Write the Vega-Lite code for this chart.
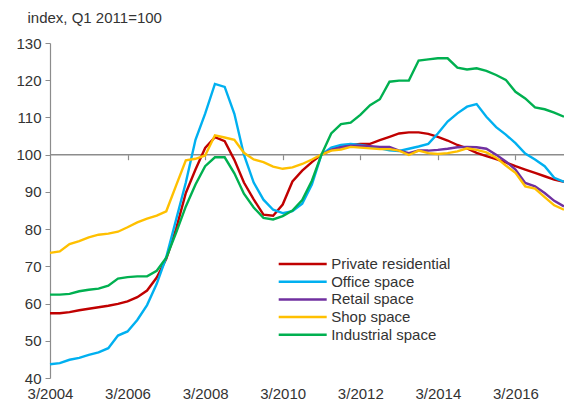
{
  "$schema": "https://vega.github.io/schema/vega-lite/v6.json",
  "width": 514,
  "height": 335,
  "autosize": {"type": "none"},
  "padding": {"left": 50, "top": 43, "right": 0, "bottom": 27},
  "config": {"font": "Liberation Sans", "view": {"stroke": null},
    "axisY": {"values": [40, 50, 60, 70, 80, 90, 100, 110, 120, 130], "grid": false, "labelOverlap": false,
      "titleAngle": 0, "titleAlign": "left", "titleBaseline": "alphabetic",
      "titleX": -23, "titleY": -20.5, "titleFont": "Liberation Sans", "titleFontSize": 15, "titleFontWeight": "normal", "titleColor": "#333333",
      "labelFont": "Liberation Sans", "labelFontSize": 15, "labelColor": "#333333", "labelPadding": 4,
      "tickSize": 5, "tickColor": "#8c8c8c", "domainColor": "#8c8c8c", "domainWidth": 1.2}},
  "data": {"values": [
    {"date":"2004-03","series":"Private residential","value":57.4},
    {"date":"2004-06","series":"Private residential","value":57.4},
    {"date":"2004-09","series":"Private residential","value":57.7},
    {"date":"2004-12","series":"Private residential","value":58.2},
    {"date":"2005-03","series":"Private residential","value":58.6},
    {"date":"2005-06","series":"Private residential","value":59.0},
    {"date":"2005-09","series":"Private residential","value":59.4},
    {"date":"2005-12","series":"Private residential","value":59.9},
    {"date":"2006-03","series":"Private residential","value":60.6},
    {"date":"2006-06","series":"Private residential","value":61.7},
    {"date":"2006-09","series":"Private residential","value":63.5},
    {"date":"2006-12","series":"Private residential","value":67.0},
    {"date":"2007-03","series":"Private residential","value":72.0},
    {"date":"2007-06","series":"Private residential","value":80.0},
    {"date":"2007-09","series":"Private residential","value":89.7},
    {"date":"2007-12","series":"Private residential","value":96.0},
    {"date":"2008-03","series":"Private residential","value":101.8},
    {"date":"2008-06","series":"Private residential","value":104.7},
    {"date":"2008-09","series":"Private residential","value":103.6},
    {"date":"2008-12","series":"Private residential","value":98.6},
    {"date":"2009-03","series":"Private residential","value":92.5},
    {"date":"2009-06","series":"Private residential","value":88.0},
    {"date":"2009-09","series":"Private residential","value":83.9},
    {"date":"2009-12","series":"Private residential","value":83.6},
    {"date":"2010-03","series":"Private residential","value":86.6},
    {"date":"2010-06","series":"Private residential","value":92.8},
    {"date":"2010-09","series":"Private residential","value":95.7},
    {"date":"2010-12","series":"Private residential","value":98.0},
    {"date":"2011-03","series":"Private residential","value":100.0},
    {"date":"2011-06","series":"Private residential","value":101.3},
    {"date":"2011-09","series":"Private residential","value":102.1},
    {"date":"2011-12","series":"Private residential","value":102.6},
    {"date":"2012-03","series":"Private residential","value":102.9},
    {"date":"2012-06","series":"Private residential","value":102.9},
    {"date":"2012-09","series":"Private residential","value":103.9},
    {"date":"2012-12","series":"Private residential","value":104.8},
    {"date":"2013-03","series":"Private residential","value":105.7},
    {"date":"2013-06","series":"Private residential","value":106.0},
    {"date":"2013-09","series":"Private residential","value":106.0},
    {"date":"2013-12","series":"Private residential","value":105.6},
    {"date":"2014-03","series":"Private residential","value":104.8},
    {"date":"2014-06","series":"Private residential","value":103.8},
    {"date":"2014-09","series":"Private residential","value":102.6},
    {"date":"2014-12","series":"Private residential","value":101.7},
    {"date":"2015-03","series":"Private residential","value":100.5},
    {"date":"2015-06","series":"Private residential","value":99.6},
    {"date":"2015-09","series":"Private residential","value":98.8},
    {"date":"2015-12","series":"Private residential","value":97.9},
    {"date":"2016-03","series":"Private residential","value":96.9},
    {"date":"2016-06","series":"Private residential","value":96.0},
    {"date":"2016-09","series":"Private residential","value":95.1},
    {"date":"2016-12","series":"Private residential","value":94.2},
    {"date":"2017-03","series":"Private residential","value":93.3},
    {"date":"2017-06","series":"Private residential","value":92.7},

    {"date":"2004-03","series":"Office space","value":43.7},
    {"date":"2004-06","series":"Office space","value":44.0},
    {"date":"2004-09","series":"Office space","value":44.9},
    {"date":"2004-12","series":"Office space","value":45.4},
    {"date":"2005-03","series":"Office space","value":46.2},
    {"date":"2005-06","series":"Office space","value":46.9},
    {"date":"2005-09","series":"Office space","value":48.0},
    {"date":"2005-12","series":"Office space","value":51.4},
    {"date":"2006-03","series":"Office space","value":52.5},
    {"date":"2006-06","series":"Office space","value":55.6},
    {"date":"2006-09","series":"Office space","value":59.6},
    {"date":"2006-12","series":"Office space","value":65.3},
    {"date":"2007-03","series":"Office space","value":72.5},
    {"date":"2007-06","series":"Office space","value":82.5},
    {"date":"2007-09","series":"Office space","value":92.5},
    {"date":"2007-12","series":"Office space","value":104.0},
    {"date":"2008-03","series":"Office space","value":111.0},
    {"date":"2008-06","series":"Office space","value":119.0},
    {"date":"2008-09","series":"Office space","value":118.2},
    {"date":"2008-12","series":"Office space","value":111.0},
    {"date":"2009-03","series":"Office space","value":100.0},
    {"date":"2009-06","series":"Office space","value":92.5},
    {"date":"2009-09","series":"Office space","value":87.9},
    {"date":"2009-12","series":"Office space","value":85.2},
    {"date":"2010-03","series":"Office space","value":84.3},
    {"date":"2010-06","series":"Office space","value":84.8},
    {"date":"2010-09","series":"Office space","value":86.8},
    {"date":"2010-12","series":"Office space","value":92.0},
    {"date":"2011-03","series":"Office space","value":100.0},
    {"date":"2011-06","series":"Office space","value":101.9},
    {"date":"2011-09","series":"Office space","value":102.6},
    {"date":"2011-12","series":"Office space","value":102.9},
    {"date":"2012-03","series":"Office space","value":102.6},
    {"date":"2012-06","series":"Office space","value":102.2},
    {"date":"2012-09","series":"Office space","value":101.7},
    {"date":"2012-12","series":"Office space","value":101.2},
    {"date":"2013-03","series":"Office space","value":101.0},
    {"date":"2013-06","series":"Office space","value":101.6},
    {"date":"2013-09","series":"Office space","value":102.2},
    {"date":"2013-12","series":"Office space","value":102.9},
    {"date":"2014-03","series":"Office space","value":105.7},
    {"date":"2014-06","series":"Office space","value":108.9},
    {"date":"2014-09","series":"Office space","value":111.1},
    {"date":"2014-12","series":"Office space","value":112.9},
    {"date":"2015-03","series":"Office space","value":113.6},
    {"date":"2015-06","series":"Office space","value":110.2},
    {"date":"2015-09","series":"Office space","value":107.4},
    {"date":"2015-12","series":"Office space","value":105.4},
    {"date":"2016-03","series":"Office space","value":103.1},
    {"date":"2016-06","series":"Office space","value":100.3},
    {"date":"2016-09","series":"Office space","value":98.7},
    {"date":"2016-12","series":"Office space","value":96.9},
    {"date":"2017-03","series":"Office space","value":93.8},
    {"date":"2017-06","series":"Office space","value":92.7},

    {"date":"2011-03","series":"Retail space","value":100.0},
    {"date":"2011-06","series":"Retail space","value":101.3},
    {"date":"2011-09","series":"Retail space","value":102.0},
    {"date":"2011-12","series":"Retail space","value":102.4},
    {"date":"2012-03","series":"Retail space","value":102.4},
    {"date":"2012-06","series":"Retail space","value":102.3},
    {"date":"2012-09","series":"Retail space","value":102.1},
    {"date":"2012-12","series":"Retail space","value":102.1},
    {"date":"2013-03","series":"Retail space","value":101.1},
    {"date":"2013-06","series":"Retail space","value":100.4},
    {"date":"2013-09","series":"Retail space","value":101.1},
    {"date":"2013-12","series":"Retail space","value":101.1},
    {"date":"2014-03","series":"Retail space","value":101.3},
    {"date":"2014-06","series":"Retail space","value":101.6},
    {"date":"2014-09","series":"Retail space","value":102.0},
    {"date":"2014-12","series":"Retail space","value":102.1},
    {"date":"2015-03","series":"Retail space","value":102.0},
    {"date":"2015-06","series":"Retail space","value":101.6},
    {"date":"2015-09","series":"Retail space","value":100.0},
    {"date":"2015-12","series":"Retail space","value":98.2},
    {"date":"2016-03","series":"Retail space","value":96.0},
    {"date":"2016-06","series":"Retail space","value":92.4},
    {"date":"2016-09","series":"Retail space","value":91.5},
    {"date":"2016-12","series":"Retail space","value":89.7},
    {"date":"2017-03","series":"Retail space","value":87.6},
    {"date":"2017-06","series":"Retail space","value":86.1},

    {"date":"2004-03","series":"Shop space","value":73.6},
    {"date":"2004-06","series":"Shop space","value":74.0},
    {"date":"2004-09","series":"Shop space","value":76.0},
    {"date":"2004-12","series":"Shop space","value":76.8},
    {"date":"2005-03","series":"Shop space","value":77.8},
    {"date":"2005-06","series":"Shop space","value":78.5},
    {"date":"2005-09","series":"Shop space","value":78.8},
    {"date":"2005-12","series":"Shop space","value":79.3},
    {"date":"2006-03","series":"Shop space","value":80.5},
    {"date":"2006-06","series":"Shop space","value":81.8},
    {"date":"2006-09","series":"Shop space","value":82.8},
    {"date":"2006-12","series":"Shop space","value":83.6},
    {"date":"2007-03","series":"Shop space","value":84.8},
    {"date":"2007-06","series":"Shop space","value":91.7},
    {"date":"2007-09","series":"Shop space","value":98.5},
    {"date":"2007-12","series":"Shop space","value":98.9},
    {"date":"2008-03","series":"Shop space","value":99.8},
    {"date":"2008-06","series":"Shop space","value":105.2},
    {"date":"2008-09","series":"Shop space","value":104.6},
    {"date":"2008-12","series":"Shop space","value":104.0},
    {"date":"2009-03","series":"Shop space","value":100.5},
    {"date":"2009-06","series":"Shop space","value":98.7},
    {"date":"2009-09","series":"Shop space","value":98.0},
    {"date":"2009-12","series":"Shop space","value":96.8},
    {"date":"2010-03","series":"Shop space","value":96.2},
    {"date":"2010-06","series":"Shop space","value":96.6},
    {"date":"2010-09","series":"Shop space","value":97.5},
    {"date":"2010-12","series":"Shop space","value":98.7},
    {"date":"2011-03","series":"Shop space","value":100.0},
    {"date":"2011-06","series":"Shop space","value":101.1},
    {"date":"2011-09","series":"Shop space","value":101.4},
    {"date":"2011-12","series":"Shop space","value":102.1},
    {"date":"2012-03","series":"Shop space","value":101.9},
    {"date":"2012-06","series":"Shop space","value":101.7},
    {"date":"2012-09","series":"Shop space","value":101.5},
    {"date":"2012-12","series":"Shop space","value":101.5},
    {"date":"2013-03","series":"Shop space","value":101.1},
    {"date":"2013-06","series":"Shop space","value":99.9},
    {"date":"2013-09","series":"Shop space","value":101.1},
    {"date":"2013-12","series":"Shop space","value":100.4},
    {"date":"2014-03","series":"Shop space","value":100.2},
    {"date":"2014-06","series":"Shop space","value":100.4},
    {"date":"2014-09","series":"Shop space","value":100.9},
    {"date":"2014-12","series":"Shop space","value":101.7},
    {"date":"2015-03","series":"Shop space","value":101.3},
    {"date":"2015-06","series":"Shop space","value":100.6},
    {"date":"2015-09","series":"Shop space","value":99.2},
    {"date":"2015-12","series":"Shop space","value":97.1},
    {"date":"2016-03","series":"Shop space","value":95.1},
    {"date":"2016-06","series":"Shop space","value":91.5},
    {"date":"2016-09","series":"Shop space","value":90.9},
    {"date":"2016-12","series":"Shop space","value":88.6},
    {"date":"2017-03","series":"Shop space","value":86.4},
    {"date":"2017-06","series":"Shop space","value":85.2},

    {"date":"2004-03","series":"Industrial space","value":62.4},
    {"date":"2004-06","series":"Industrial space","value":62.4},
    {"date":"2004-09","series":"Industrial space","value":62.6},
    {"date":"2004-12","series":"Industrial space","value":63.3},
    {"date":"2005-03","series":"Industrial space","value":63.7},
    {"date":"2005-06","series":"Industrial space","value":64.0},
    {"date":"2005-09","series":"Industrial space","value":64.8},
    {"date":"2005-12","series":"Industrial space","value":66.7},
    {"date":"2006-03","series":"Industrial space","value":67.1},
    {"date":"2006-06","series":"Industrial space","value":67.3},
    {"date":"2006-09","series":"Industrial space","value":67.3},
    {"date":"2006-12","series":"Industrial space","value":68.8},
    {"date":"2007-03","series":"Industrial space","value":72.3},
    {"date":"2007-06","series":"Industrial space","value":79.0},
    {"date":"2007-09","series":"Industrial space","value":86.1},
    {"date":"2007-12","series":"Industrial space","value":92.0},
    {"date":"2008-03","series":"Industrial space","value":96.9},
    {"date":"2008-06","series":"Industrial space","value":99.3},
    {"date":"2008-09","series":"Industrial space","value":99.3},
    {"date":"2008-12","series":"Industrial space","value":95.0},
    {"date":"2009-03","series":"Industrial space","value":89.5},
    {"date":"2009-06","series":"Industrial space","value":85.8},
    {"date":"2009-09","series":"Industrial space","value":83.0},
    {"date":"2009-12","series":"Industrial space","value":82.6},
    {"date":"2010-03","series":"Industrial space","value":83.5},
    {"date":"2010-06","series":"Industrial space","value":85.0},
    {"date":"2010-09","series":"Industrial space","value":87.8},
    {"date":"2010-12","series":"Industrial space","value":93.0},
    {"date":"2011-03","series":"Industrial space","value":100.0},
    {"date":"2011-06","series":"Industrial space","value":105.7},
    {"date":"2011-09","series":"Industrial space","value":108.2},
    {"date":"2011-12","series":"Industrial space","value":108.6},
    {"date":"2012-03","series":"Industrial space","value":110.7},
    {"date":"2012-06","series":"Industrial space","value":113.3},
    {"date":"2012-09","series":"Industrial space","value":114.9},
    {"date":"2012-12","series":"Industrial space","value":119.6},
    {"date":"2013-03","series":"Industrial space","value":119.9},
    {"date":"2013-06","series":"Industrial space","value":119.9},
    {"date":"2013-09","series":"Industrial space","value":125.3},
    {"date":"2013-12","series":"Industrial space","value":125.6},
    {"date":"2014-03","series":"Industrial space","value":125.9},
    {"date":"2014-06","series":"Industrial space","value":125.9},
    {"date":"2014-09","series":"Industrial space","value":123.4},
    {"date":"2014-12","series":"Industrial space","value":122.9},
    {"date":"2015-03","series":"Industrial space","value":123.2},
    {"date":"2015-06","series":"Industrial space","value":122.5},
    {"date":"2015-09","series":"Industrial space","value":121.4},
    {"date":"2015-12","series":"Industrial space","value":120.1},
    {"date":"2016-03","series":"Industrial space","value":116.9},
    {"date":"2016-06","series":"Industrial space","value":115.1},
    {"date":"2016-09","series":"Industrial space","value":112.7},
    {"date":"2016-12","series":"Industrial space","value":112.2},
    {"date":"2017-03","series":"Industrial space","value":111.3},
    {"date":"2017-06","series":"Industrial space","value":110.2}
  ]},
  "layer": [
    {
      "mark": {"type": "rule", "color": "#8c8c8c", "strokeWidth": 1.5},
      "encoding": {
        "x": {"aggregate": "min", "field": "date", "type": "temporal",
          "scale": {"domain": [{"year": 2004, "month": 3, "date": 1}, {"year": 2017, "month": 6, "date": 1}]},
          "axis": {"orient": "bottom", "title": null, "grid": false, "domain": false, "ticks": false, "tickSize": 0,
            "values": [{"year": 2004, "month": 3, "date": 1}, {"year": 2006, "month": 3, "date": 1}, {"year": 2008, "month": 3, "date": 1}, {"year": 2010, "month": 3, "date": 1}, {"year": 2012, "month": 3, "date": 1}, {"year": 2014, "month": 3, "date": 1}, {"year": 2016, "month": 3, "date": 1}],
            "format": "%-m/%Y", "labelFlush": false, "labelOverlap": false, "labelPadding": 8.5, "labelDx": 1,
            "labelFont": "Liberation Sans", "labelFontSize": 15, "labelColor": "#333333"}},
        "x2": {"aggregate": "max", "field": "date"},
        "y": {"datum": 100, "type": "quantitative",
          "scale": {"domain": [40, 130], "nice": false, "zero": false},
          "axis": {"title": "index, Q1 2011=100", "values": [40, 50, 60, 70, 80, 90, 100, 110, 120, 130], "labelOverlap": false}}
      }
    },
    {
      "mark": {"type": "line", "strokeWidth": 2.4},
      "encoding": {
        "x": {"field": "date", "type": "temporal",
          "scale": {"domain": [{"year": 2004, "month": 3, "date": 1}, {"year": 2017, "month": 6, "date": 1}]},
          "axis": {"orient": "bottom", "offset": -223.3, "title": null, "grid": false, "labels": false, "domain": false,
            "ticks": true, "tickSize": 5, "tickColor": "#8c8c8c", "tickWidth": 1.2,
            "values": [{"year": 2006, "month": 3, "date": 1}, {"year": 2008, "month": 3, "date": 1}, {"year": 2010, "month": 3, "date": 1}, {"year": 2012, "month": 3, "date": 1}, {"year": 2014, "month": 3, "date": 1}, {"year": 2016, "month": 3, "date": 1}]}},
        "y": {"field": "value", "type": "quantitative",
          "scale": {"domain": [40, 130], "nice": false, "zero": false},
          "axis": {"title": "index, Q1 2011=100", "values": [40, 50, 60, 70, 80, 90, 100, 110, 120, 130], "labelOverlap": false}},
        "color": {"field": "series", "type": "nominal",
          "scale": {"domain": ["Private residential", "Office space", "Retail space", "Shop space", "Industrial space"],
            "range": ["#C00000", "#00B0F0", "#7030A0", "#FFC000", "#00B050"]},
          "legend": {"orient": "none", "legendX": 227.7, "legendY": 213.5, "title": null, "padding": 0,
            "symbolType": "M-4.8,0H4.8", "symbolSize": 100, "symbolStrokeWidth": 2.5, "symbolOffset": 17.5,
            "labelOffset": 21, "labelFont": "Liberation Sans", "labelFontSize": 15, "labelColor": "#333333",
            "rowPadding": 1.7, "labelLimit": 300}}
      }
    }
  ],
  "resolve": {"axis": {"x": "independent"}}
}
